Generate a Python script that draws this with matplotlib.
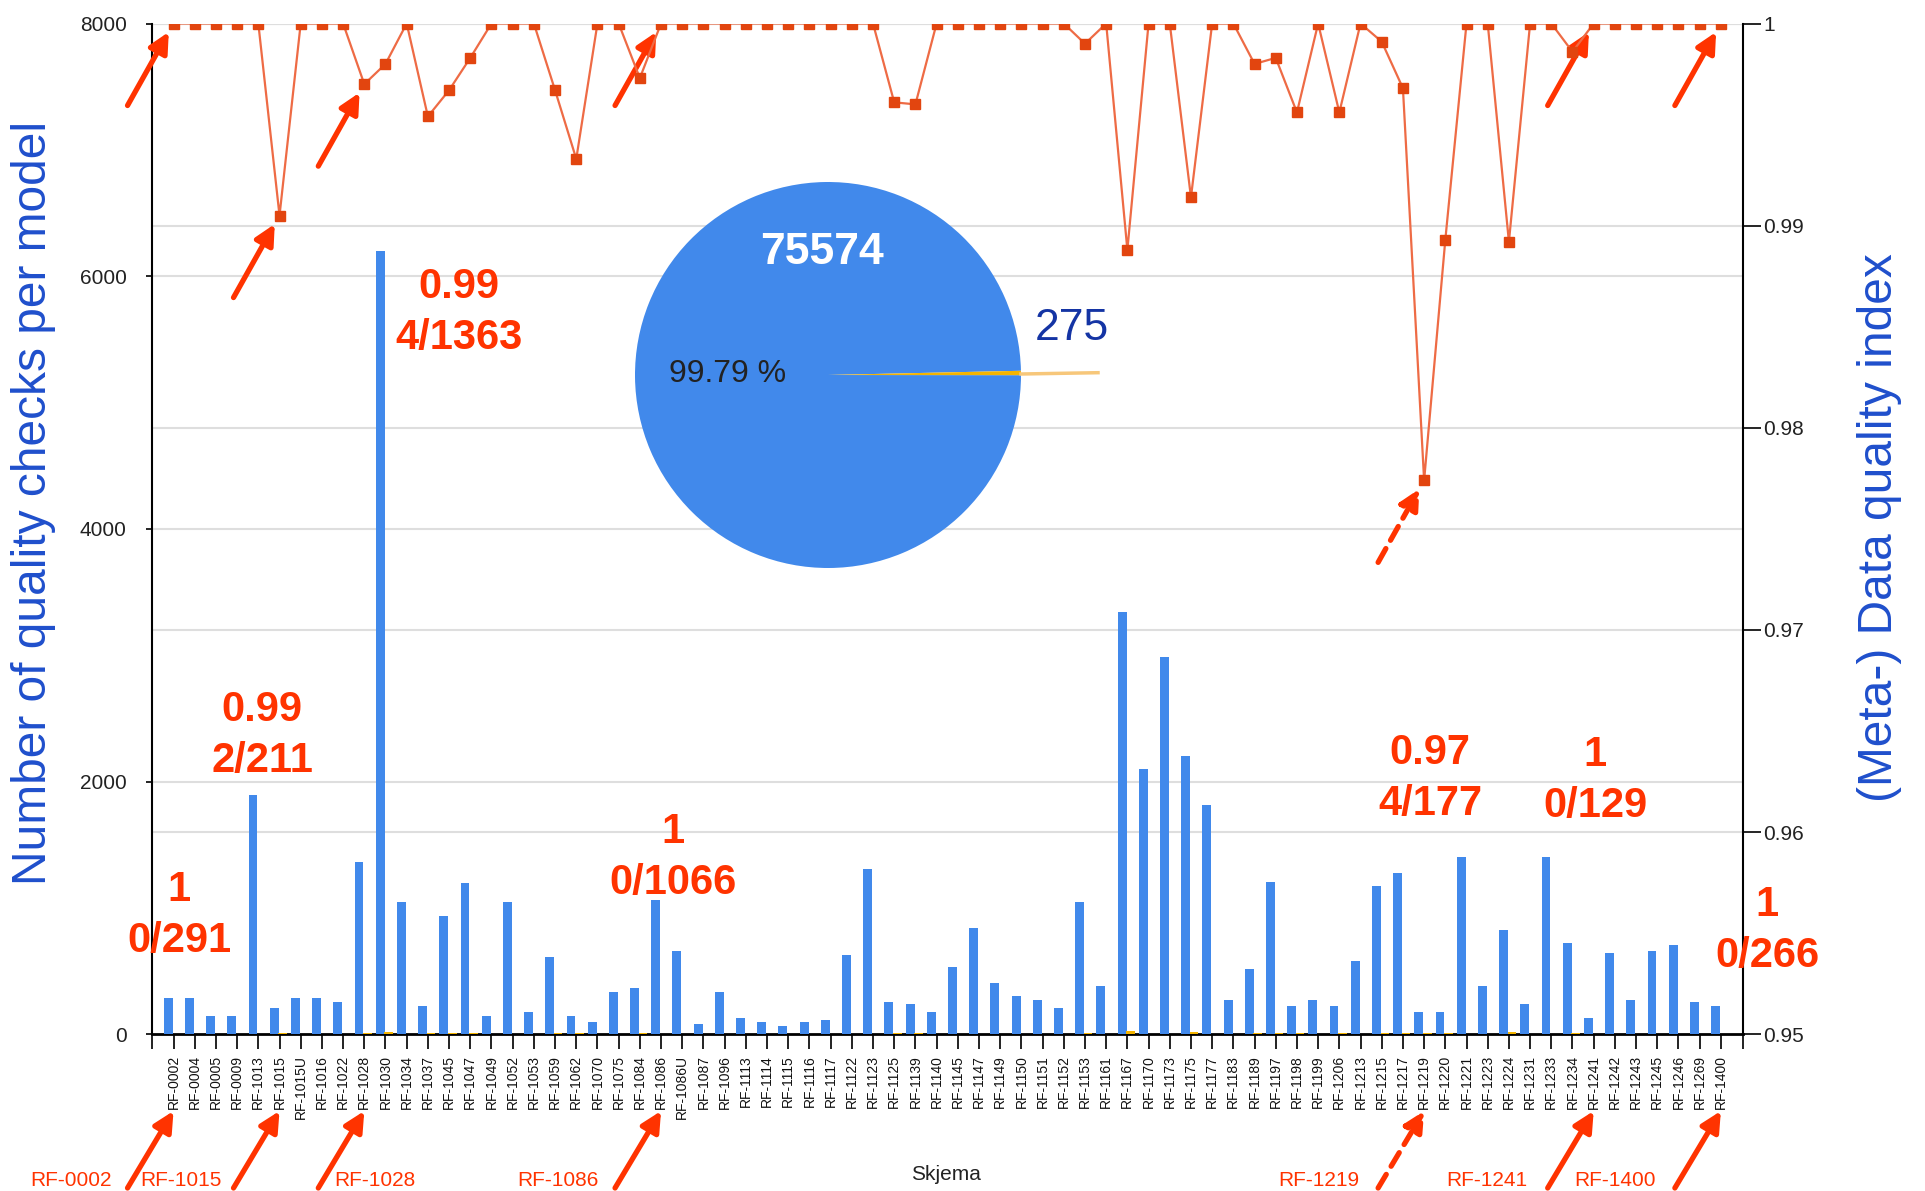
import matplotlib
matplotlib.use("Agg")
import matplotlib.pyplot as plt
import numpy as np

W, H = 1925, 1191
plt.rcParams["font.family"] = ["Liberation Sans", "DejaVu Sans"]

# --- data ------------------------------------------------------------------
models = [
    "RF-0002", "RF-0004", "RF-0005", "RF-0009", "RF-1013", "RF-1015", "RF-1015U",
    "RF-1016", "RF-1022", "RF-1028", "RF-1030", "RF-1034", "RF-1037", "RF-1045",
    "RF-1047", "RF-1049", "RF-1052", "RF-1053", "RF-1059", "RF-1062", "RF-1070",
    "RF-1075", "RF-1084", "RF-1086", "RF-1086U", "RF-1087", "RF-1096", "RF-1113",
    "RF-1114", "RF-1115", "RF-1116", "RF-1117", "RF-1122", "RF-1123", "RF-1125",
    "RF-1139", "RF-1140", "RF-1145", "RF-1147", "RF-1149", "RF-1150", "RF-1151",
    "RF-1152", "RF-1153", "RF-1161", "RF-1167", "RF-1170", "RF-1173", "RF-1175",
    "RF-1177", "RF-1183", "RF-1189", "RF-1197", "RF-1198", "RF-1199", "RF-1206",
    "RF-1213", "RF-1215", "RF-1217", "RF-1219", "RF-1220", "RF-1221", "RF-1223",
    "RF-1224", "RF-1231", "RF-1233", "RF-1234", "RF-1241", "RF-1242", "RF-1243",
    "RF-1245", "RF-1246", "RF-1269", "RF-1400",
]
checks = [
    290, 290, 145, 145, 1895, 211, 290, 290, 258, 1363,
    6200, 1046, 227, 935, 1194, 145, 1046, 177, 611, 145,
    95, 337, 369, 1066, 661, 79, 337, 129, 95, 63,
    95, 113, 630, 1307, 258, 240, 177, 532, 838, 403,
    306, 274, 208, 1046, 385, 3345, 2103, 2987, 2201, 1813,
    274, 516, 1207, 227, 274, 227, 580, 1175, 1273, 177,
    177, 1404, 385, 822, 240, 1404, 725, 129, 646, 274,
    661, 709, 258, 227,
]
flagged = [
    0, 0, 0, 0, 0, 12, 0, 0, 0, 12,
    15, 0, 10, 12, 12, 0, 0, 0, 10, 10,
    0, 0, 10, 0, 0, 0, 0, 0, 0, 0,
    0, 0, 0, 0, 10, 10, 0, 0, 0, 0,
    0, 0, 0, 10, 0, 30, 0, 0, 18, 0,
    0, 10, 10, 10, 0, 10, 0, 10, 12, 12,
    10, 0, 0, 15, 0, 0, 10, 0, 0, 0,
    0, 0, 0, 0,
]
quality = [
    1, 1, 1, 1, 1, 0.9905, 1, 1, 1, 0.9970,
    0.9980, 1, 0.9954, 0.9967, 0.9983, 1, 1, 1, 0.9967, 0.9933,
    1, 1, 0.9973, 1, 1, 1, 1, 1, 1, 1,
    1, 1, 1, 1, 0.9961, 0.9960, 1, 1, 1, 1,
    1, 1, 1, 0.9990, 1, 0.9888, 1, 1, 0.9914, 1,
    1, 0.9980, 0.9983, 0.9956, 1, 0.9956, 1, 0.9991, 0.9968, 0.9774,
    0.9893, 1, 1, 0.9892, 1, 1, 0.9986, 1, 1, 1,
    1, 1, 1, 1,
]
pie_values = [75574, 275]
pie_share = "99.79 %"

# highlighted models: (model, index text, fails/checks text, dashed arrow)
callouts = [
    ("RF-0002", "1", "0/291", False),
    ("RF-1015", "0.99", "2/211", False),
    ("RF-1028", "0.99", "4/1363", False),
    ("RF-1086", "1", "0/1066", False),
    ("RF-1219", "0.97", "4/177", True),
    ("RF-1241", "1", "0/129", False),
    ("RF-1400", "1", "0/266", False),
]
# where each callout's text and bottom label sit (pixels, image space)
callout_text_xy = [(179, 890), (262, 710), (459, 287), (673, 832),
                   (1430, 753), (1595, 755), (1767, 905)]
callout_label_x = [71, 181, 375, 558, 1319, 1487, 1615]

BLUE = "#4189EB"
ORANGE = "#F4B400"
LINE = "#EE6B45"
MARK = "#E2450F"
RED = "#FF3300"
AXBLUE = "#1F4FCC"


def fx(px):
    return px / W


def fy(py):
    return 1 - py / H


fig = plt.figure(figsize=(W / 100, H / 100), dpi=100)
ax = fig.add_axes([fx(151.7), fy(1034.3), (1742.7 - 151.7) / W, (1034.3 - 23.5) / H])
ax2 = ax.twinx()

x = np.arange(len(models))
ymax, qmin, qmax = 8000, 0.95, 1.0

# grid lines of both axes, drawn under the bars
for v in range(2000, 8001, 2000):
    ax.axhline(v, color="#DEDEDE", lw=1.5, zorder=0)
for q in [0.96, 0.97, 0.98, 0.99, 1.0]:
    ax.axhline((q - qmin) / (qmax - qmin) * ymax, color="#DEDEDE", lw=1.5, zorder=0)

ax.bar(x - 0.25, checks, width=0.42, color=BLUE, zorder=3)
ax.bar(x + 0.15, flagged, width=0.4, color=ORANGE, zorder=3)

ax.set_xlim(-1.03, len(models) + 0.03)
ax.set_ylim(0, ymax)
ax.set_yticks([0, 2000, 4000, 6000, 8000])
ax.set_xticks(x)
ax.set_xticklabels(models, rotation=90, fontsize=10, color="#111")
ax.set_xticks([-1.03, len(models) + 0.03], minor=True)
ax.tick_params(axis="x", which="both", length=11, width=1.3, color="#111", pad=4)
ax.tick_params(axis="y", length=4, width=1.2, pad=14, labelsize=15, labelcolor="#222")

ax2.plot(x, quality, color=LINE, lw=1.6, marker="s", ms=6.5,
         mfc=MARK, mec=MARK, zorder=4)
ax2.set_ylim(qmin, qmax)
qticks = [0.95, 0.96, 0.97, 0.98, 0.99, 1.0]
ax2.set_yticks(qticks)
ax2.set_yticklabels(["0.95", "0.96", "0.97", "0.98", "0.99", "1"])
ax2.tick_params(axis="y", length=13, width=1.2, pad=2, labelsize=15, labelcolor="#222")

for a in (ax, ax2):
    a.spines["top"].set_visible(False)
ax.spines["right"].set_visible(False)
ax2.spines["left"].set_visible(False)
ax2.spines["bottom"].set_visible(False)
ax.spines["left"].set_linewidth(1.5)
ax.spines["bottom"].set_linewidth(2)
ax2.spines["right"].set_linewidth(1.5)

fig.text(fx(34), fy(503), "Number of quality checks per model", rotation=90,
         ha="center", va="center", fontsize=34.5, color=AXBLUE)
fig.text(fx(1880), fy(528), "(Meta-) Data quality index", rotation=90,
         ha="center", va="center", fontsize=34.5, color=AXBLUE)
fig.text(fx(946), fy(1174), "Skjema", ha="center", va="center", fontsize=15, color="#222")

# --- callouts -----------------------------------------------------------------
for (model, idx_txt, ratio_txt, dashed), (tx, ty), lx in zip(
        callouts, callout_text_xy, callout_label_x):
    i = models.index(model)
    fig.text(fx(tx), fy(ty), idx_txt, ha="center", va="center",
             fontsize=30, fontweight="bold", color=RED)
    fig.text(fx(tx), fy(ty + 51), ratio_txt, ha="center", va="center",
             fontsize=30, fontweight="bold", color=RED)
    fig.text(fx(lx), fy(1181), model, ha="center", va="center", fontsize=15, color=RED)

    style = dict(arrowstyle="-|>", lw=3.8, color=RED, mutation_scale=30,
                 shrinkA=0, linestyle=(0, (3, 1.8)) if dashed else "-")
    # arrow onto the tick label
    ax.annotate("", xy=(i, fy(1111)), xycoords=("data", "figure fraction"),
                xytext=(-46, -77), textcoords="offset pixels",
                arrowprops=dict(style, shrinkB=0))
    # arrow onto the line marker
    ax2.annotate("", xy=(i, quality[i]), xycoords="data",
                 xytext=(-46, -82), textcoords="offset pixels",
                 arrowprops=dict(style, shrinkB=7))

# --- inset pie ------------------------------------------------------------------
cx, cy, r = 828, 375, 193
pax = fig.add_axes([fx(cx - r), fy(cy + r), 2 * r / W, 2 * r / H])
share = pie_values[1] / sum(pie_values) * 360
pax.pie(pie_values, colors=[BLUE, ORANGE], startangle=0.6 - 360 + share / 2,
        counterclock=True, wedgeprops=dict(linewidth=0))
pax.set_xlim(-1, 1)
pax.set_ylim(-1, 1)
pax.set_aspect("equal")
pax.axis("off")
fig.add_artist(plt.Line2D([fx(cx + r), fx(1098)], [fy(cy - 1), fy(372.7)],
                          color="#F7C77A", lw=2.5))
fig.text(fx(822), fy(252), f"{pie_values[0]}", ha="center", va="center",
         fontsize=32, fontweight="bold", color="white")
fig.text(fx(728), fy(374), pie_share, ha="center", va="center", fontsize=23, color="#222")
fig.text(fx(1072), fy(328), f"{pie_values[1]}", ha="center", va="center",
         fontsize=32, color="#1434A4")

fig.savefig("out.png", dpi=100)
